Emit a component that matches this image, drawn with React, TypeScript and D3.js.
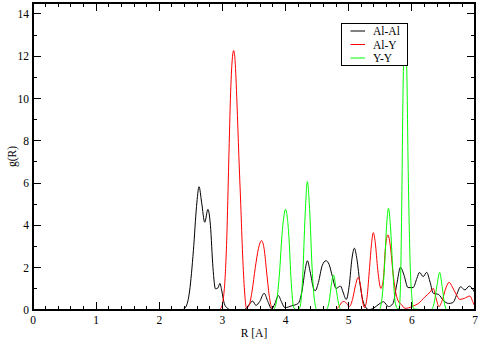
import React from "react";
import * as d3 from "d3";

const alAl: [number, number][] = [
  [0, 0], [2.35, 0], [2.42, 0.15], [2.48, 0.9], [2.54, 2.8], [2.59, 4.9], [2.63, 5.83], [2.67, 5.1],
  [2.72, 4.15], [2.77, 4.76], [2.81, 4.0], [2.85, 2.0], [2.89, 1.0], [2.93, 1.05], [2.96, 1.26],
  [2.99, 0.9], [3.03, 0.3], [3.08, 0.08], [3.15, 0], [3.35, 0.02], [3.42, 0.25], [3.48, 0.42],
  [3.53, 0.22], [3.59, 0.4], [3.66, 0.79], [3.72, 0.4], [3.78, 0.05], [3.83, 0.3], [3.885, 0.68],
  [3.94, 0.35], [3.99, 0.11], [4.1, 0.2], [4.2, 0.31], [4.26, 0.9], [4.31, 1.9], [4.345, 2.33],
  [4.39, 1.8], [4.44, 1.05], [4.47, 0.91], [4.52, 1.3], [4.58, 2.1], [4.64, 2.33], [4.69, 2.15],
  [4.74, 1.6], [4.8, 1.02], [4.87, 1.13], [4.91, 0.85], [4.96, 0.5], [5.01, 1.2], [5.05, 2.4],
  [5.09, 2.92], [5.13, 2.4], [5.18, 1.2], [5.22, 0.5], [5.26, 0.16], [5.32, 0.02], [5.4, 0.1],
  [5.48, 0.28], [5.55, 0.39], [5.63, 0.16], [5.7, 0.3], [5.76, 1.2], [5.82, 2.02], [5.87, 1.7],
  [5.94, 1.06], [6.02, 1.06], [6.08, 1.5], [6.12, 1.78], [6.18, 1.58], [6.235, 1.78], [6.29, 1.3],
  [6.34, 0.79], [6.42, 0.74], [6.5, 0.45], [6.58, 0.31], [6.65, 0.35], [6.72, 0.8], [6.77, 1.1],
  [6.84, 0.95], [6.91, 1.13], [6.96, 1.0], [7, 0.8],
];

const alY: [number, number][] = [
  [0, 0], [2.93, 0], [2.98, 0.1], [3.03, 1.0], [3.07, 3.5], [3.1, 7.0], [3.13, 10.3], [3.16, 12.0],
  [3.178, 12.27], [3.2, 11.8], [3.23, 9.8], [3.26, 7.3], [3.29, 5.0], [3.32, 2.6], [3.35, 0.9],
  [3.38, 0.1], [3.42, 0.2], [3.47, 0.9], [3.52, 2.0], [3.57, 2.9], [3.62, 3.28], [3.66, 2.9],
  [3.7, 1.8], [3.74, 0.7], [3.78, 0.12], [3.82, 0], [4.78, 0], [4.84, 0.15], [4.9, 0.38], [4.93, 0.4],
  [4.97, 0.3], [5.01, 0.16], [5.06, 0.5], [5.11, 1.2], [5.15, 1.54], [5.19, 1.1], [5.22, 0.4],
  [5.25, 0.12], [5.29, 0.6], [5.33, 2.0], [5.36, 3.1], [5.39, 3.66], [5.42, 3.2], [5.46, 1.9],
  [5.51, 1.02], [5.55, 1.5], [5.58, 2.9], [5.62, 3.55], [5.66, 3.0], [5.7, 1.8], [5.74, 0.9],
  [5.78, 0.45], [5.84, 0.24], [5.89, 0.08], [5.95, 0.1], [6.03, 0.2], [6.1, 0.3], [6.21, 0.63],
  [6.29, 0.85], [6.34, 1.02], [6.38, 0.6], [6.43, 0.16], [6.48, 0.45], [6.54, 1.05], [6.59, 1.31],
  [6.64, 1.1], [6.7, 0.75], [6.76, 0.5], [6.83, 0.55], [6.92, 0.66], [6.97, 0.35], [7, 0.16],
];

const yY: [number, number][] = [
  [0, 0], [3.8, 0], [3.85, 0.3], [3.9, 1.6], [3.95, 3.8], [4.0, 4.76], [4.05, 3.6], [4.09, 1.3],
  [4.13, 0.1], [4.2, 0], [4.23, 0.15], [4.27, 1.5], [4.31, 4.5], [4.345, 6.07], [4.38, 4.8],
  [4.42, 2.0], [4.46, 0.4], [4.5, 0], [4.64, 0], [4.69, 0.4], [4.73, 1.3], [4.76, 1.65], [4.8, 1.0],
  [4.84, 0.3], [4.88, 0], [5.48, 0], [5.52, 0.4], [5.57, 2.2], [5.6, 4.0], [5.63, 4.81], [5.66, 4.0],
  [5.7, 1.8], [5.74, 0.3], [5.78, 0.05], [5.8, 0.1], [5.82, 1.2], [5.84, 5.0], [5.86, 10.3],
  [5.89, 13.2], [5.92, 11.3], [5.94, 7.0], [5.97, 2.5], [6.0, 0.6], [6.03, 0.05], [6.3, 0],
  [6.35, 0.3], [6.4, 1.2], [6.44, 1.78], [6.48, 1.1], [6.52, 0.25], [6.56, 0], [7, 0],
];

const seriesNames = ["Al-Al", "Al-Y", "Y-Y"];
const seriesColors = ["#000000", "#ff0000", "#00ff00"];
const xTicks = [0, 1, 2, 3, 4, 5, 6, 7];
const yTicks = [0, 2, 4, 6, 8, 10, 12, 14];

const W = 480;
const H = 340;
const L = 33, R = 475, T = 3, B = 310;

export default function App() {
  const x = d3.scaleLinear().domain([0, 7]).range([L, R]);
  const y = d3.scaleLinear().domain([0, 14.52]).range([B, T]);
  const line = d3
    .line<[number, number]>()
    .x((d) => x(d[0]))
    .y((d) => y(d[1]))
    .curve(d3.curveMonotoneX);
  const series = [alAl, alY, yY];
  const xMinor = d3.range(0, 7.001, 0.2).filter((v) => Math.abs(v - Math.round(v)) > 1e-6);
  const yMinor = d3.range(1, 14.6, 2);
  const font = "'Liberation Serif', 'DejaVu Serif', serif";
  const fs = 11.5;

  return (
    <svg width={W} height={H} style={{ position: "absolute", left: 0, top: 0, background: "#fff" }}>
      <rect x={0} y={0} width={W} height={H} fill="#fff" />
      <defs>
        <clipPath id="plot">
          <rect x={L} y={T} width={R - L} height={B - T} />
        </clipPath>
      </defs>
      <g clipPath="url(#plot)">
        {series.map((s, i) => (
          <path key={i} d={line(s) || ""} fill="none" stroke={seriesColors[i]} strokeWidth={1} />
        ))}
      </g>
      <g stroke="#000" strokeWidth={1} shapeRendering="crispEdges">
        {xTicks.map((t) => (
          <g key={"xt" + t}>
            <line x1={x(t)} x2={x(t)} y1={B} y2={B - 8} />
            <line x1={x(t)} x2={x(t)} y1={T} y2={T + 8} />
          </g>
        ))}
        {xMinor.map((t, i) => (
          <g key={"xm" + i}>
            <line x1={x(t)} x2={x(t)} y1={B} y2={B - 4} />
            <line x1={x(t)} x2={x(t)} y1={T} y2={T + 4} />
          </g>
        ))}
        {yTicks.map((t) => (
          <g key={"yt" + t}>
            <line x1={L} x2={L + 8} y1={y(t)} y2={y(t)} />
            <line x1={R} x2={R - 8} y1={y(t)} y2={y(t)} />
          </g>
        ))}
        {yMinor.map((t, i) => (
          <g key={"ym" + i}>
            <line x1={L} x2={L + 4} y1={y(t)} y2={y(t)} />
            <line x1={R} x2={R - 4} y1={y(t)} y2={y(t)} />
          </g>
        ))}
        <rect x={L} y={T} width={R - L} height={B - T} fill="none" strokeWidth={1.3} />
      </g>
      <g fontFamily={font} fontSize={fs} fill="#000">
        {xTicks.map((t) => (
          <text key={"xl" + t} x={x(t)} y={B + 14} textAnchor="middle">
            {t}
          </text>
        ))}
        {yTicks.map((t) => (
          <text key={"yl" + t} x={L - 4} y={y(t) + 4} textAnchor="end">
            {t}
          </text>
        ))}
        <text x={(L + R) / 2} y={337} textAnchor="middle">
          R [A]
        </text>
        <text transform={`translate(16,${(T + B) / 2}) rotate(-90)`} textAnchor="middle">
          g(R)
        </text>
      </g>
      <g>
        <rect x={341.5} y={23.5} width={66} height={42} fill="#fff" stroke="#000" strokeWidth={1} />
        {seriesNames.map((n, i) => (
          <g key={n}>
            <line x1={350.5} x2={365} y1={31 + i * 13.5} y2={31 + i * 13.5} stroke={seriesColors[i]} strokeWidth={1} />
            <text x={373} y={35 + i * 13.5} fontFamily={font} fontSize={fs} fill="#000">
              {n}
            </text>
          </g>
        ))}
      </g>
    </svg>
  );
}
